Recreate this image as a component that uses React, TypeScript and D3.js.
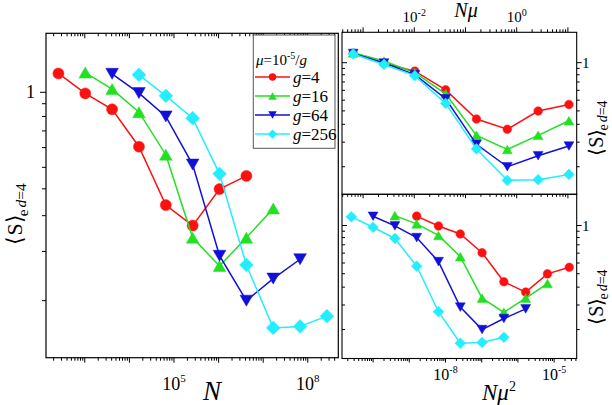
import React from 'react';
import * as d3 from 'd3';

// ---------- data ----------
const gValues = [4, 16, 64, 256];
const seriesLabels = ['4', '16', '64', '256'];
const muNumerator = 1e-5; // mu = 1e-5 / g
const N_g4 = [256, 1024, 4096, 16384, 65536, 262144, 1048576, 4194304];
const N_g16 = [1024, 4096, 16384, 65536, 262144, 1048576, 4194304, 16777216];
const N_g64 = [4096, 16384, 65536, 262144, 1048576, 4194304, 16777216, 67108864];
const N_g256 = [16384, 65536, 262144, 1048576, 4194304, 16777216, 67108864, 268435456];
const S_g4 = [1.19, 0.99, 0.855, 0.605, 0.353, 0.292, 0.409, 0.462];
const S_g16 = [1.2, 1.03, 0.832, 0.562, 0.261, 0.201, 0.261, 0.342];
const S_g64 = [1.186, 0.993, 0.8, 0.513, 0.221, 0.146, 0.179, 0.214];
const S_g256 = [1.175, 0.968, 0.787, 0.471, 0.203, 0.1135, 0.115, 0.1265];

const leftXLabelExps = ['5', '8'];
const topXLabelExps = ['-2', '0'];
const brXLabelExps = ['-8', '-5'];
const yMajorTicks = [1];
const yMinorTicks = [0.9, 0.8, 0.7, 0.6, 0.5, 0.41, 0.32, 0.23, 0.146];

const colors = ['#FF1010', '#22E022', '#1010D8', '#22EEFF'];
const shapes = ['circle', 'up', 'down', 'diamond'];

const FONT = '"Liberation Serif"';

const NData = [N_g4, N_g16, N_g64, N_g256];
const SData = [S_g4, S_g16, S_g64, S_g256];

// ---------- layout ----------
const L = { x0: 46, x1: 338.3, y0: 33.3, y1: 357.7 };
const TR = { x0: 342, x1: 576.7, y0: 32.3, y1: 194.3 };
const BR = { x0: 342, x1: 576.7, y0: 194.3, y1: 358.5 };

const xL = d3.scaleLog().domain([10 ** 2.13, 10 ** 8.684]).range([L.x0, L.x1]);
const yL = d3.scaleLog().domain([0.0862, 1.7245]).range([L.y1, L.y0]);
const xTR = d3.scaleLog().domain([10 ** -3.412, 10 ** 1.172]).range([TR.x0, TR.x1]);
const yTR = d3.scaleLog().domain([0.0877, 1.754]).range([TR.y1, TR.y0]);
const xBR = d3.scaleLog().domain([10 ** -10.859, 10 ** -4.376]).range([BR.x0, BR.x1]);
const yBR = d3.scaleLog().domain([0.0855, 1.781]).range([BR.y1, BR.y0]);

function logTicks(scale: any) {
  const [lo, hi] = scale.domain();
  const out: { v: number; major: boolean }[] = [];
  for (let e = Math.floor(Math.log10(lo)); e <= Math.ceil(Math.log10(hi)); e++) {
    for (let m = 1; m <= 9; m++) {
      const v = m * Math.pow(10, e);
      if (v >= lo && v <= hi) out.push({ v, major: m === 1 });
    }
  }
  return out;
}

function markerPath(shape: string, cx: number, cy: number, s: number) {
  if (shape === 'circle') {
    const p = d3.path();
    p.arc(cx, cy, s, 0, Math.PI * 2);
    p.closePath();
    return p.toString();
  }
  if (shape === 'up') {
    const w = s * 2.3, h = s * 2.0;
    return `M${cx},${cy - h / 2}L${cx + w / 2},${cy + h / 2}L${cx - w / 2},${cy + h / 2}Z`;
  }
  if (shape === 'down') {
    const w = s * 2.3, h = s * 2.0;
    return `M${cx},${cy + h / 2}L${cx + w / 2},${cy - h / 2}L${cx - w / 2},${cy - h / 2}Z`;
  }
  const r = s * 1.25;
  return `M${cx},${cy - r}L${cx + r},${cy}L${cx},${cy + r}L${cx - r},${cy}Z`;
}

function Series({ xs, ys, xScale, yScale, color, shape, size, lw }: any) {
  const line = d3.line<number>().x((_, i) => xScale(xs[i])).y((d) => yScale(d));
  return (
    <g>
      <path d={line(ys) || ''} fill="none" stroke={color} strokeWidth={lw} />
      {ys.map((v: number, i: number) => (
        <path key={i} d={markerPath(shape, xScale(xs[i]), yScale(v), size)} fill={color} stroke={color} strokeWidth={0.5} />
      ))}
    </g>
  );
}

function XTicks({ scale, y, dir, maj, min }: any) {
  return (
    <g stroke="#000" strokeWidth={1}>
      {logTicks(scale).map((t, i) => {
        const x = scale(t.v);
        return <line key={i} x1={x} x2={x} y1={y} y2={y + dir * (t.major ? maj : min)} />;
      })}
    </g>
  );
}

function YTicks({ scale, x, dir, maj, min }: any) {
  const ticks = [
    ...yMajorTicks.map((v) => ({ v, major: true })),
    ...yMinorTicks.map((v) => ({ v, major: false })),
  ];
  return (
    <g stroke="#000" strokeWidth={1}>
      {ticks.map((t, i) => {
        const y = scale(t.v);
        return <line key={i} x1={x} x2={x + dir * (t.major ? maj : min)} y1={y} y2={y} />;
      })}
    </g>
  );
}

const T: any = { fontFamily: FONT };

function Pow10({ x, y, exp, size, supSize }: any) {
  return (
    <text x={x} y={y} textAnchor="middle" style={T} fontSize={size} fill="#000">
      10<tspan dy={-size * 0.42} fontSize={supSize}>{exp}</tspan>
    </text>
  );
}

function YTitle({ x, y, size }: any) {
  return (
    <text transform={`translate(${x},${y}) rotate(-90)`} textAnchor="middle" style={T} fontSize={size} fill="#000">
      ⟨S⟩<tspan dx={-2} dy={size * 0.25} fontSize={size * 0.7}>e</tspan>
      <tspan dx={2} dy={-size * 0.05} fontSize={size * 0.7} fontStyle="italic">d</tspan>
      <tspan fontSize={size * 0.7}>=4</tspan>
    </text>
  );
}

export default function App() {
  const muOf = (g: number) => muNumerator / g;
  return (
    <svg width={612} height={405} style={{ position: 'absolute', left: 0, top: 0, background: '#fff', fontFamily: FONT }}>
      <rect x={0} y={0} width={612} height={405} fill="#fff" />

      {/* ---------- LEFT PANEL ---------- */}
      <XTicks scale={xL} y={L.y1} dir={1} maj={5} min={3} />
      <XTicks scale={xL} y={L.y0} dir={1} maj={5} min={3} />
      <YTicks scale={yL} x={L.x0} dir={-1} maj={6} min={4} />
      {gValues.map((g, si) => (
        <Series key={si} xs={NData[si]} ys={SData[si]} xScale={xL} yScale={yL} color={colors[si]} shape={shapes[si]} size={5.5} lw={1.5} />
      ))}
      <rect x={L.x0} y={L.y0} width={L.x1 - L.x0} height={L.y1 - L.y0} fill="none" stroke="#000" strokeWidth={1.2} />
      {leftXLabelExps.map((e, i) => (
        <Pow10 key={i} x={xL(Math.pow(10, +e))} y={390} exp={e} size={18} supSize={11} />
      ))}
      {yMajorTicks.map((v, i) => (
        <text key={i} x={35} y={yL(v)} dominantBaseline="central" textAnchor="end" style={T} fontSize={18}>{v}</text>
      ))}
      <text x={212} y={400} textAnchor="middle" style={T} fontStyle="italic" fontSize={27}>N</text>
      <YTitle x={22} y={214} size={22} />

      {/* legend */}
      <rect x={253.3} y={35} width={81.7} height={113.3} fill="#fff" stroke="#555" strokeWidth={1} />
      <text x={256} y={65} style={T} fontSize={15}>
        <tspan fontStyle="italic">μ</tspan>=10<tspan dy={-6} fontSize={10}>-5</tspan><tspan dy={6}>/</tspan><tspan fontStyle="italic">g</tspan>
      </text>
      {gValues.map((g, si) => {
        const y = [77, 96, 115, 134][si];
        return (
          <g key={si}>
            <line x1={255} x2={290} y1={y} y2={y} stroke={colors[si]} strokeWidth={1.5} />
            <path d={markerPath(shapes[si], 272.5, y, 3.7)} fill={colors[si]} />
            <text x={293} y={y + 5.5} style={T} fontSize={17}>
              <tspan fontStyle="italic">g</tspan>={seriesLabels[si]}
            </text>
          </g>
        );
      })}

      {/* ---------- TOP RIGHT PANEL ---------- */}
      <XTicks scale={xTR} y={TR.y0} dir={-1} maj={5} min={3} />
      <XTicks scale={xTR} y={TR.y1} dir={1} maj={4} min={2.5} />
      <YTicks scale={yTR} x={TR.x0} dir={1} maj={5} min={3} />
      <YTicks scale={yTR} x={TR.x1} dir={1} maj={5} min={3} />
      {gValues.map((g, si) => (
        <Series key={si} xs={NData[si].map((n) => n * muOf(g))} ys={SData[si]} xScale={xTR} yScale={yTR} color={colors[si]} shape={shapes[si]} size={4.3} lw={1.5} />
      ))}
      <rect x={TR.x0} y={TR.y0} width={TR.x1 - TR.x0} height={TR.y1 - TR.y0} fill="none" stroke="#000" strokeWidth={1.1} />
      {topXLabelExps.map((e, i) => (
        <Pow10 key={i} x={xTR(Math.pow(10, +e))} y={22} exp={e} size={15} supSize={10} />
      ))}
      <text x={466} y={17} textAnchor="middle" style={T} fontStyle="italic" fontSize={20}>Nμ</text>
      {yMajorTicks.map((v, i) => (
        <text key={i} x={582} y={yTR(v)} dominantBaseline="central" style={T} fontSize={15}>{v}</text>
      ))}
      <YTitle x={603} y={128} size={20} />

      {/* ---------- BOTTOM RIGHT PANEL ---------- */}
      <XTicks scale={xBR} y={BR.y1} dir={1} maj={4} min={2.5} />
      <YTicks scale={yBR} x={BR.x0} dir={1} maj={5} min={3} />
      <YTicks scale={yBR} x={BR.x1} dir={1} maj={5} min={3} />
      {gValues.map((g, si) => (
        <Series key={si} xs={NData[si].map((n) => n * muOf(g) * muOf(g))} ys={SData[si]} xScale={xBR} yScale={yBR} color={colors[si]} shape={shapes[si]} size={4.3} lw={1.5} />
      ))}
      <rect x={BR.x0} y={BR.y0} width={BR.x1 - BR.x0} height={BR.y1 - BR.y0} fill="none" stroke="#000" strokeWidth={1.1} />
      {brXLabelExps.map((e, i) => (
        <Pow10 key={i} x={xBR(Math.pow(10, +e))} y={380} exp={e} size={16} supSize={10} />
      ))}
      <text x={482} y={400} style={T} fontStyle="italic" fontSize={23}>
        Nμ<tspan dy={-9} fontSize={14} fontStyle="normal">2</tspan>
      </text>
      {yMajorTicks.map((v, i) => (
        <text key={i} x={582} y={yBR(v)} dominantBaseline="central" style={T} fontSize={15}>{v}</text>
      ))}
      <YTitle x={603} y={297} size={20} />
    </svg>
  );
}
